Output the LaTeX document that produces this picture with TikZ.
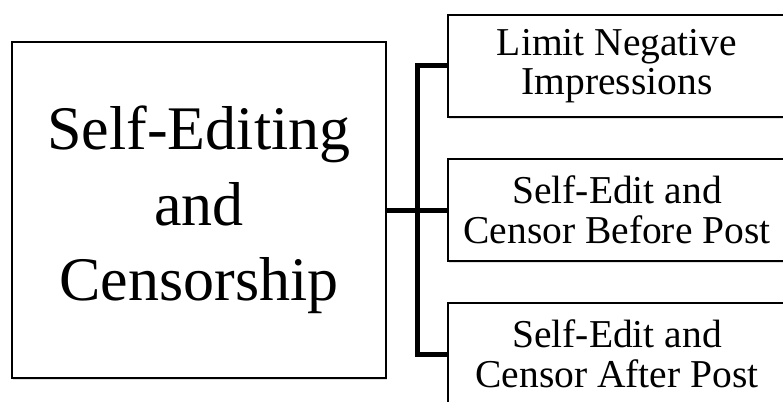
\documentclass[tikz,border=0pt]{standalone}
\usepackage{fontspec}
\setmainfont{Liberation Serif}
\usetikzlibrary{shadows}
\begin{document}
\begin{tikzpicture}[x=1pt,y=-1pt,
  mainbox/.style={draw=black, line width=1.8pt, fill=white, minimum width=374pt, minimum height=336pt, inner sep=0pt, align=center, font=\fontsize{62}{75.5}\selectfont,
    drop shadow={shadow xshift=0.8pt, shadow yshift=-2pt, opacity=0.25}},
  subbox/.style={draw=black, line width=1.8pt, fill=white, minimum width=338pt, minimum height=102pt, inner sep=0pt, align=center, font=\fontsize{39.5}{39.5}\selectfont,
    drop shadow={shadow xshift=0.8pt, shadow yshift=-2pt, opacity=0.25}},
  link/.style={line width=5pt, line join=miter}]
\useasboundingbox (0,0) rectangle (783,401);
\clip (0,0) rectangle (783,401);
\fill[white] (0,0) rectangle (783,401);
\node[mainbox] (L) at (199,210) {Self-Editing\\and\\Censorship};
\node[subbox] (A) at (617,66) {Limit Negative\\Impressions};
\node[subbox] (B) at (617,210) {Self-Edit and\\Censor Before Post};
\node[subbox] (C) at (617,354) {Self-Edit and\\Censor After Post};
\coordinate (j) at (417,210);
\draw[link] (A.west) -- (j |- A.west) -- (j |- C.west) -- (C.west);
\draw[link] (L.east) -- (B.west);
\end{tikzpicture}
\end{document}
